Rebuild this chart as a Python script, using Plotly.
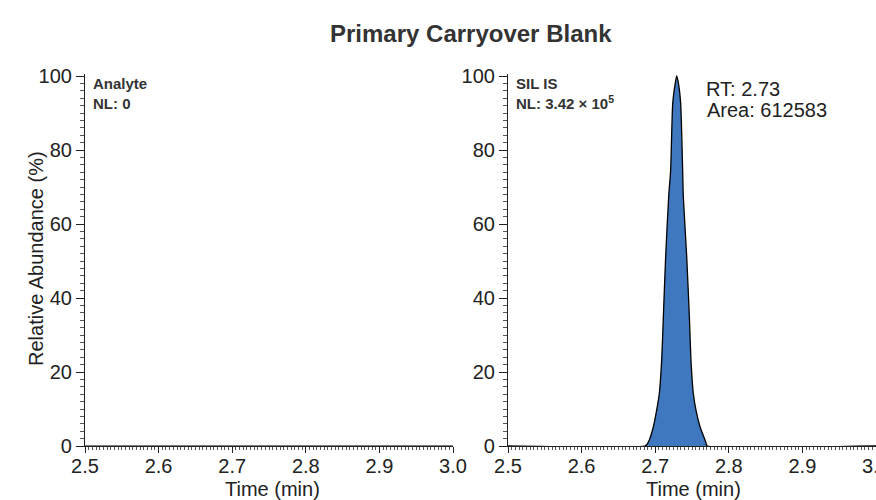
import plotly.graph_objects as go

# ---- data ----
analyte_time = [2.5, 3.0]
analyte_abund = [0, 0]

is_time = [2.5, 2.686, 2.689, 2.692, 2.6975, 2.702, 2.7056, 2.7088, 2.7111, 2.7142, 2.7185,
           2.7210, 2.7238, 2.7269, 2.7292, 2.7319, 2.7346, 2.7373, 2.7382, 2.7428,
           2.7464, 2.7486, 2.7518, 2.7554, 2.7609, 2.7677, 2.7695, 2.7708, 3.0]
is_abund = [0, 0, 0.5, 1.6, 5.2, 9.7, 14.2, 23.2, 35, 51.2, 68,
            74.6, 92.6, 97.6, 100, 97.6, 92.6, 74.6, 67.4, 51.2,
            35, 23.2, 14.2, 9.7, 5.2, 1.6, 0.5, 0, 0]

x_ticks = [2.5, 2.6, 2.7, 2.8, 2.9, 3.0]
x_ticklabels = ["2.5", "2.6", "2.7", "2.8", "2.9", "3.0"]
y_ticks = [0, 20, 40, 60, 80, 100]

title = "Primary Carryover Blank"
peak_rt = "2.73"
peak_area = "612583"

FONT = "Liberation Sans, Arial, sans-serif"
BLUE = "#3f78bf"

fig = go.Figure()
fig.add_trace(go.Scatter(x=analyte_time, y=analyte_abund, mode="lines",
                         line=dict(color="black", width=1.2),
                         xaxis="x", yaxis="y", showlegend=False))
fig.add_trace(go.Scatter(x=is_time, y=is_abund, mode="lines",
                         line=dict(color="black", width=1.3, shape="spline", smoothing=0.6),
                         fill="tozeroy", fillcolor=BLUE,
                         xaxis="x2", yaxis="y2", showlegend=False))

H = 500
W = 876
y0_px, y100_px = 446, 76
ymax = 100.6
top_px = y0_px - (y0_px - y100_px) * ymax / 100
ydom = [1 - y0_px / H, 1 - top_px / H]

xaxis_common = dict(
    range=[2.5, 3.0], tickvals=x_ticks, ticktext=x_ticklabels, automargin=False,
    showgrid=False, zeroline=False, showline=True, linecolor="#222", linewidth=1.2,
    ticks="outside", ticklen=6, tickwidth=1.2, tickcolor="#222",
    minor=dict(dtick=0.005, ticks="outside", ticklen=3, tickwidth=1, tickcolor="#555", showgrid=False),
    tickfont=dict(family=FONT, size=20, color="#222"), fixedrange=True,
    ticklabelstandoff=-4, ticklabeloverflow="allow",
)
yaxis_common = dict(
    range=[0, ymax], tickvals=y_ticks, domain=ydom, automargin=False,
    showgrid=False, zeroline=False, showline=True, linecolor="#222", linewidth=1.2,
    ticks="outside", ticklen=8, tickwidth=1.2, tickcolor="#222",
    minor=dict(dtick=2, ticks="outside", ticklen=4, tickwidth=1, tickcolor="#555", showgrid=False),
    tickfont=dict(family=FONT, size=20, color="#222"), fixedrange=True,
)

fig.update_layout(
    width=W, height=H,
    margin=dict(l=0, r=0, t=0, b=0, autoexpand=False),
    paper_bgcolor="white", plot_bgcolor="white",
    xaxis=dict(domain=[85 / W, 453 / W], anchor="y", **xaxis_common),
    yaxis=dict(anchor="x", **yaxis_common),
    xaxis2=dict(domain=[508 / W, 1.0], anchor="y2", **xaxis_common),
    yaxis2=dict(anchor="x2", **yaxis_common),
    font=dict(family=FONT, color="#222"),
)

def px_ann(text, x, y, size, bold=False, xanchor="left", yanchor="middle", angle=0, color="#222"):
    fig.add_annotation(text=f"<b>{text}</b>" if bold else text,
                       x=x / W, y=1 - y / H, xref="paper", yref="paper",
                       xanchor=xanchor, yanchor=yanchor, showarrow=False, textangle=angle,
                       font=dict(family=FONT, size=size, color=color))

px_ann(title, 471, 33, 24, bold=True, xanchor="center", color="#333")
px_ann("Analyte", 91, 83, 15, bold=True, color="#333")
px_ann("NL: 0", 91, 104, 15, bold=True, color="#333")
px_ann("SIL IS", 514, 83, 15, bold=True, color="#333")
px_ann("NL: 3.42 × 10<sup>5</sup>", 514, 103, 15, bold=True, color="#333")
px_ann(f"RT: {peak_rt}", 704, 89, 20)
px_ann(f"Area: {peak_area}", 705, 110, 20)
px_ann("Relative Abundance (%)", 36, 259, 20, xanchor="center", angle=-90)
px_ann("Time (min)", 272, 489, 20, xanchor="center")
px_ann("Time (min)", 693, 489, 20, xanchor="center")

fig.write_html("out.html")
